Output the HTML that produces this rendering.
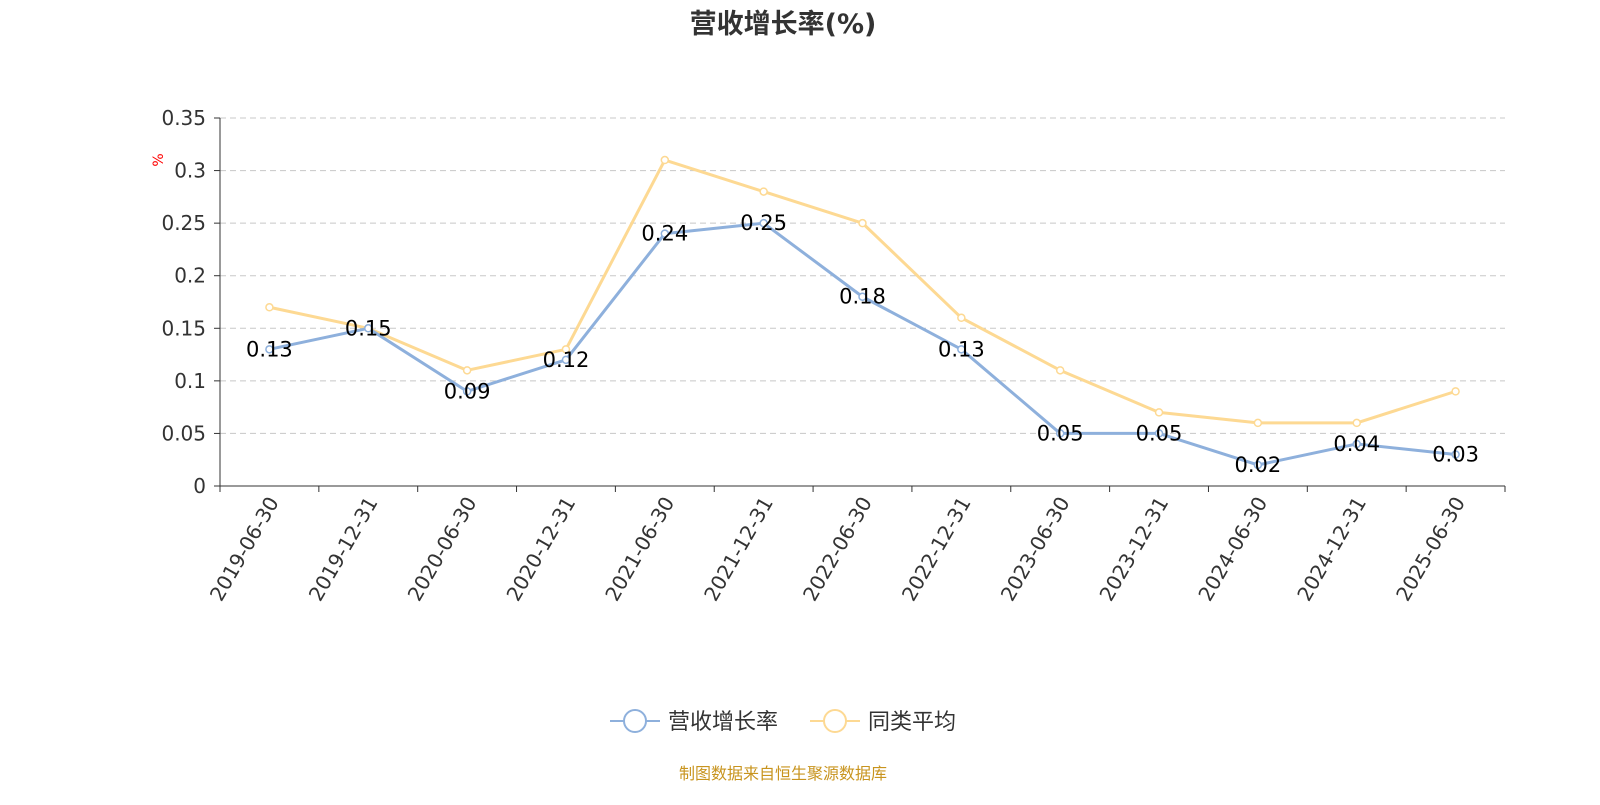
<!DOCTYPE html>
<html><head><meta charset="utf-8"><style>
body{margin:0;background:#fff;width:1600px;height:800px;overflow:hidden}
svg text{font-family:"DejaVu Sans","Noto Sans CJK SC",sans-serif}
</style></head><body>
<svg id="chart" width="1600" height="800" xmlns="http://www.w3.org/2000/svg">
<text x="783" y="33" text-anchor="middle" font-size="27" font-weight="bold" fill="#333">营收增长率(%)</text>
<text x="163" y="160" font-size="14" fill="red" text-anchor="middle" transform="rotate(-90 163 160)">%</text>
<g id="grid"></g><g id="axes"></g><g id="series"></g>
<g>
<g>
<line x1="610" y1="721" x2="660" y2="721" stroke="#8eb0dc" stroke-width="2"/>
<circle cx="635" cy="721" r="11" fill="#fff" stroke="#8eb0dc" stroke-width="2"/>
<text x="668" y="729" font-size="22" fill="#333">营收增长率</text></g>
<g>
<line x1="810" y1="721" x2="860" y2="721" stroke="#fdd993" stroke-width="2"/>
<circle cx="835" cy="721" r="11" fill="#fff" stroke="#fdd993" stroke-width="2"/>
<text x="868" y="729" font-size="22" fill="#333">同类平均</text></g>
</g>
<text x="783" y="779" text-anchor="middle" font-size="16" fill="#c8941e">制图数据来自恒生聚源数据库</text>
</svg>
<script>
const categories=["2019-06-30","2019-12-31","2020-06-30","2020-12-31","2021-06-30","2021-12-31","2022-06-30","2022-12-31","2023-06-30","2023-12-31","2024-06-30","2024-12-31","2025-06-30"];
const revenueGrowth=[0.13,0.15,0.09,0.12,0.24,0.25,0.18,0.13,0.05,0.05,0.02,0.04,0.03];
const peerAverage=[0.17,0.15,0.11,0.13,0.31,0.28,0.25,0.16,0.11,0.07,0.06,0.06,0.09];
const yTicks=[0,0.05,0.1,0.15,0.2,0.25,0.3,0.35];
const yTickLabels=["0","0.05","0.1","0.15","0.2","0.25","0.3","0.35"];
const NS="http://www.w3.org/2000/svg";
const L=220,R=1505,T=118,B=486,yMax=0.35;
const bw=(R-L)/categories.length;
const xs=i=>L+bw*(i+0.5);
const ys=v=>B-(v/yMax)*(B-T);
function mk(tag,attrs,parent){const e=document.createElementNS(NS,tag);for(const k in attrs)e.setAttribute(k,attrs[k]);parent.appendChild(e);return e;}
const grid=document.getElementById('grid'),axes=document.getElementById('axes'),ser=document.getElementById('series');
yTicks.forEach((v,i)=>{
 if(v>0){const g=mk('line',{x1:L,x2:R,y1:ys(v),y2:ys(v),stroke:'#c8c8c8','stroke-dasharray':'6,4'},grid);
 
 }
 const t=mk('text',{x:L-14,y:ys(v)+7,'text-anchor':'end','font-size':20,fill:'#333'},axes);t.textContent=yTickLabels[i];
 
 
 mk('line',{x1:L-6,x2:L,y1:ys(v),y2:ys(v),stroke:'#333'},axes);
});
const ya=mk('line',{x1:L,x2:L,y1:T,y2:B,stroke:'#333'},axes);


const xa=mk('line',{x1:L,x2:R,y1:B,y2:B,stroke:'#333'},axes);


for(let i=0;i<=categories.length;i++)mk('line',{x1:L+bw*i,x2:L+bw*i,y1:B,y2:B+6,stroke:'#333'},axes);
categories.forEach((c,i)=>{const x=xs(i)+10,y=502;
 const t=mk('text',{x:x,y:y,'text-anchor':'end','font-size':20,fill:'#333',transform:`rotate(-60 ${x} ${y})`},axes);t.textContent=c;
 
 });
function drawSeries(vals,color,name){
 const p=mk('polyline',{points:vals.map((v,i)=>xs(i)+','+ys(v)).join(' '),fill:'none',stroke:color,'stroke-width':3,'stroke-linejoin':'round'},ser);
 
 
 vals.forEach((v,i)=>{const c=mk('circle',{cx:xs(i),cy:ys(v),r:3.5,fill:'#fff',stroke:color,'stroke-width':1.5},ser);
  
  });
}
drawSeries(peerAverage,'#fdd993','peer-average');
drawSeries(revenueGrowth,'#8eb0dc','revenue-growth');
revenueGrowth.forEach((v,i)=>{const t=mk('text',{x:xs(i),y:ys(v)+7,'text-anchor':'middle','font-size':21,fill:'#000'},ser);t.textContent=v.toFixed(2);
 
 });
</script>
</body></html>
